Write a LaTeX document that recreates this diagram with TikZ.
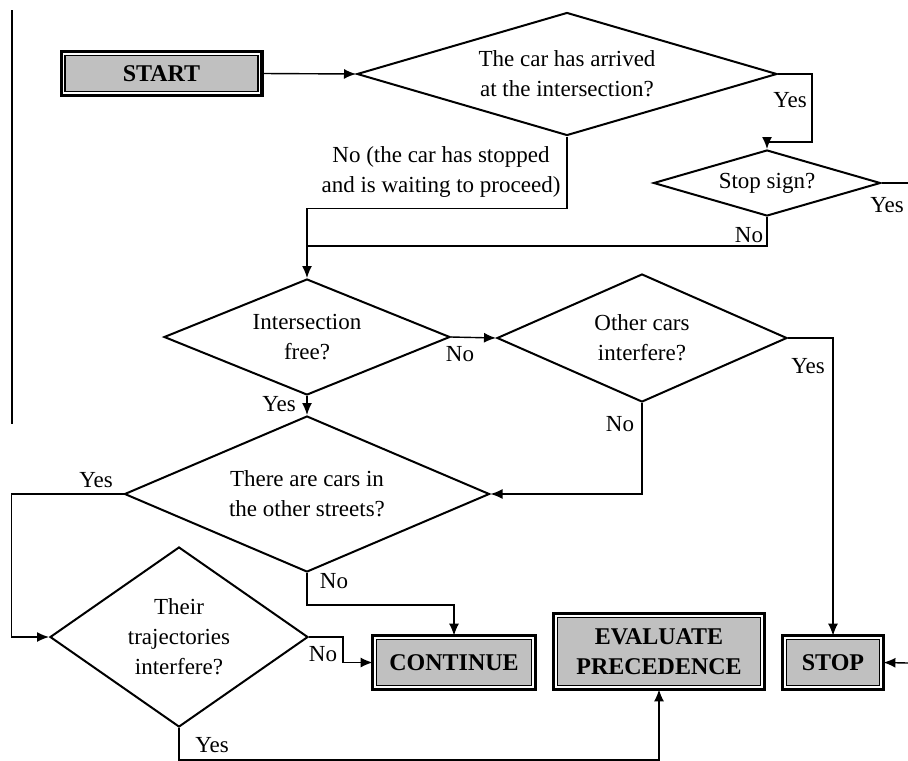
\documentclass[tikz,border=0pt]{standalone}
\usepackage{fontspec}
\setmainfont{Liberation Serif}
\usetikzlibrary{shapes.geometric,arrows.meta,calc}

\definecolor{boxgray}{RGB}{192,192,192}
\tikzset{
  decision/.style={draw,diamond,line width=1pt,inner sep=0pt,align=center},
  terminal/.style={draw,rectangle,fill=boxgray,line width=1.6pt,outer sep=0pt,align=center,
    font=\bfseries\fontsize{12}{15}\selectfont,
    path picture={
      \draw[white,line width=0.8pt] ([shift={(1.2pt,-1.2pt)}]path picture bounding box.north west)
        rectangle ([shift={(-1.2pt,1.2pt)}]path picture bounding box.south east);
      \draw[black,line width=0.7pt] ([shift={(1.95pt,-1.95pt)}]path picture bounding box.north west)
        rectangle ([shift={(-1.95pt,1.95pt)}]path picture bounding box.south east);
    }},
  lbl/.style={inner sep=0pt,align=center}
}

\begin{document}
\begin{tikzpicture}[x=0.5pt,y=-0.5pt,line width=0.7pt,>={Latex[length=6pt,width=5pt]},
  every node/.style={font=\fontsize{11.5}{15}\selectfont}]
\useasboundingbox (0,0) rectangle (908,760);
\draw[line width=0.8pt] (12,10) -- (12,424);

% boxes and questions
\node[terminal,minimum width=100.4pt,minimum height=21.9pt] (start) at (161.5,73.5) {START};
\node[decision,minimum width=210pt,minimum height=61.5pt,aspect=3.4] (arrived) at (567,74) {The car has arrived\\at the intersection?};
\node[decision,minimum width=113.5pt,minimum height=33pt,aspect=3.4] (stopsign) at (767,183) {Stop sign?};
\node[decision,minimum width=143pt,minimum height=58pt,aspect=2.5] (free) at (307,337) {Intersection\\free?};
\node[decision,minimum width=145pt,minimum height=64pt,aspect=2.3] (others) at (642,338) {Other cars\\interfere?};
\node[decision,minimum width=182.5pt,minimum height=78pt,aspect=2.3] (cars) at (307,494) {There are cars in\\the other streets?};
\node[decision,minimum width=129pt,minimum height=90pt,aspect=1.4] (traj) at (179,637) {Their\\trajectories\\interfere?};
\node[terminal,minimum width=81.4pt,minimum height=26.9pt] (cont) at (454,662.5) {CONTINUE};
\node[terminal,minimum width=105.4pt,minimum height=37.9pt] (eval) at (659,651.5) {EVALUATE\\PRECEDENCE};
\node[terminal,minimum width=50.4pt,minimum height=26.9pt] (stop) at (833,662.5) {STOP};

\coordinate (stopexit) at (908,183);
\coordinate (stopin) at (908,663);
\coordinate (floor) at (0,760);

% connectors
\draw[->] (start.east) -- (arrived.west);
\draw[->] (arrived.east) -- ++(34,0) -- ++(0,68) -| (stopsign.north);
\draw (stopsign.east) -- (stopexit);
\draw[->] (arrived.south) -- ++(0,72) -| (free.north);
\draw (stopsign.south) |- ($(free.north)+(0,-32)$);
\draw[->] (free.east) -- (others.west);
\draw[->] (free.south) -- (cars.north);
\draw[->] (others.east) -- ++(45,0) -| (stop.north);
\draw[->] (others.south) |- (cars.east);
\draw[->] (cars.west) -- ++(-112,0) |- (traj.west);
\draw[->] (cars.south) -- ++(0,32) -| (cont.north);
\draw[->] (traj.east) -- ++(34,0) |- (cont.west);
\draw[->] (traj.south) -- (traj.south |- floor) -| (eval.south);
\draw[->] (stopin) -- (stop.east);

% labels
\node[lbl] (noA) at (441,172) {No (the car has stopped\\and is waiting to proceed)};
\node[lbl] (yesA) at (790,100) {Yes};
\node[lbl] (yesB) at (887,205) {Yes};
\node[lbl] (noB) at (749,235) {No};
\node[lbl] (noC) at (460,354) {No};
\node[lbl] (yesC) at (279,404) {Yes};
\node[lbl] (yesD) at (808,366) {Yes};
\node[lbl] (noD) at (620,424) {No};
\node[lbl] (yesE) at (96,480) {Yes};
\node[lbl] (noE) at (334,581) {No};
\node[lbl] (noF) at (323,654) {No};
\node[lbl] (yesF) at (212,745) {Yes};
\end{tikzpicture}
\end{document}
